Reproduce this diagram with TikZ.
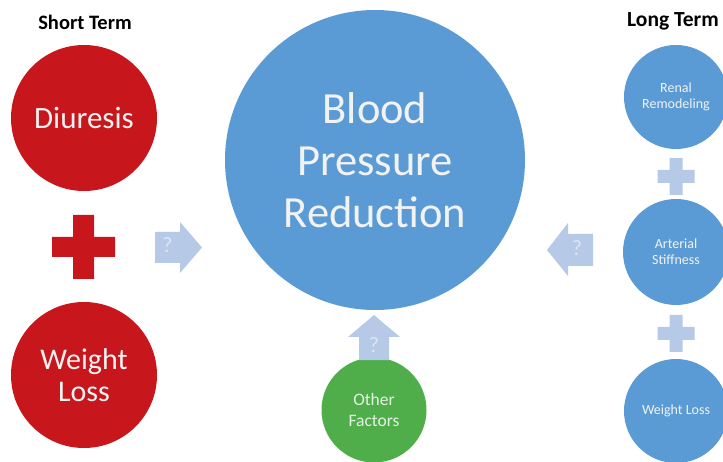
\documentclass[tikz,border=0pt]{standalone}
\usepackage{fontspec}
\setmainfont{Carlito}
\usetikzlibrary{positioning}
\definecolor{bpblue}{HTML}{5B9BD5}
\definecolor{bpred}{HTML}{C8161D}
\definecolor{bpgreen}{HTML}{4FAE49}
\definecolor{qblue}{HTML}{B6C9E7}
\definecolor{qtext}{HTML}{DCE5F3}
\begin{document}
\begin{tikzpicture}[x=1pt, y=-1pt,
    factor/.style={circle, inner sep=0pt, align=center, text=white!95!black},
    qmark/.style={inner sep=0pt, text=qtext, font=\fontsize{22}{22}\selectfont}]
      \useasboundingbox (0,0) rectangle (723,462);
      \node[font=\bfseries\fontsize{20.5}{24}\selectfont] (short) at (85,22) {Short Term};
      \node[font=\bfseries\fontsize{21.5}{24}\selectfont] (long) at (673,21) {Long Term};

      \node[factor, fill=bpblue, minimum size=300pt, font=\fontsize{44.5}{52}\selectfont] (bp) at (375,160) {Blood\\Pressure\\Reduction};

      \node[factor, fill=bpred, minimum size=146pt, font=\fontsize{31}{32}\selectfont] (diuresis) at (84,118) {Diuresis};
      \node[factor, fill=bpred, minimum size=146pt, font=\fontsize{30}{32}\selectfont] (wlshort) at (84,375) {Weight\\Loss};
      \fill[bpred] (52,237) rectangle (115,257) (73,215) rectangle (94,279);

      \node[factor, fill=bpblue, minimum size=104pt, font=\fontsize{14}{16}\selectfont] (renal) at (676,97) {Renal\\Remodeling};
      \node[factor, fill=bpblue, minimum size=106pt, font=\fontsize{14}{16}\selectfont] (arterial) at (676,252) {Arterial\\Stiffness};
      \node[factor, fill=bpblue, minimum size=104pt, font=\fontsize{14}{16}\selectfont] (wllong) at (676,411) {Weight Loss};
      \fill[qblue] (657.5,170) rectangle (694.5,183) (669.5,158) rectangle (682.5,195);
      \fill[qblue] (657.5,327) rectangle (694.5,340) (669.5,315) rectangle (682.5,352);

      \node[factor, fill=bpgreen, minimum size=105pt, text=white!85!bpgreen, font=\fontsize{17.5}{21}\selectfont] (other) at (374,410) {Other\\Factors};

      \fill[qblue] (155,232) -- (180,232) -- (180,222) -- (202,247.5) -- (180,273) -- (180,263) -- (155,263) -- cycle;
      \node[qmark] (qleft) at (167.5,245) {?};
      \fill[qblue] (593,234) -- (568,234) -- (568,223) -- (547,250) -- (568,276) -- (568,266) -- (593,266) -- cycle;
      \node[qmark] (qright) at (577,248) {?};
      \fill[qblue] (359,360) -- (359,337) -- (348,337) -- (374,315) -- (400,337) -- (389,337) -- (389,360) -- cycle;
      \node[qmark] (qup) at (374,345) {?};
    \end{tikzpicture}
\end{document}
